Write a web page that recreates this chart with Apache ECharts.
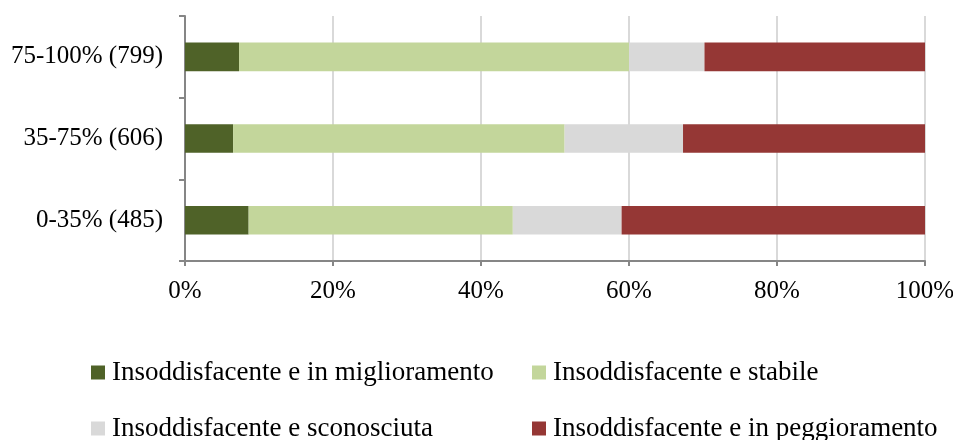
<!DOCTYPE html>
<html>
<head>
<meta charset="utf-8">
<script src="https://cdn.jsdelivr.net/npm/echarts@6/dist/echarts.min.js"></script>
<style>
    html, body { margin: 0; padding: 0; background: #fff; }
    #chart { width: 953px; height: 440px; }
</style>
</head>
<body>
<div id="chart"></div>
<script>
// categories bottom to top
var categories = ['0-35% (485)', '35-75% (606)', '75-100% (799)']
var miglioramento = [8.6, 6.5, 7.3]
var stabile = [35.7, 44.8, 52.7]
var sconosciuta = [14.7, 16.0, 10.2]
var peggioramento = [41.0, 32.7, 29.8]
var xTicks = [0, 20, 40, 60, 80, 100]

var font = 'Liberation Serif'
var chart = echarts.init(document.getElementById('chart'))

function bar(name, data, color) {
    return {
        name: name,
        type: 'bar',
        stack: 'tot',
        barWidth: '35%',
        itemStyle: { color: color },
        data: data
    }
}

// one legend per item, laid out 2x2 like the original
function legendItem(name, left, top) {
    return {
        left: left, top: top,
        icon: 'rect',
        itemWidth: 14, itemHeight: 14, itemGap: 0,
        textStyle: { fontFamily: font, fontSize: 27, color: '#000', padding: [0, 0, 0, 2] },
        data: [name]
    }
}

chart.setOption({
    animation: false,
    textStyle: { fontFamily: font },
    grid: { left: 185, right: 28, top: 16, bottom: 179, outerBoundsMode: 'none' },
    legend: [
        legendItem('Insoddisfacente e in miglioramento', 86, 354),
        legendItem('Insoddisfacente e stabile', 527, 354),
        legendItem('Insoddisfacente e sconosciuta', 86, 410),
        legendItem('Insoddisfacente e in peggioramento', 527, 410)
    ],
    xAxis: {
        type: 'value',
        min: xTicks[0],
        max: xTicks[xTicks.length - 1],
        interval: 20,
        axisLine: { show: true, lineStyle: { color: '#868686', width: 2 } },
        axisTick: { show: true, length: 5, lineStyle: { color: '#868686', width: 2 } },
        splitLine: { show: true, lineStyle: { color: '#d9d9d9', width: 2 } },
        axisLabel: {
            formatter: '{value}%',
            fontFamily: font, fontSize: 25, color: '#000', margin: 18
        }
    },
    yAxis: {
        type: 'category',
        data: categories,
        axisLine: { show: true, lineStyle: { color: '#868686', width: 2 } },
        axisTick: { show: true, length: 6, lineStyle: { color: '#868686', width: 2 } },
        axisLabel: { fontFamily: font, fontSize: 25, color: '#000', margin: 22 }
    },
    series: [
        bar('Insoddisfacente e in miglioramento', miglioramento, '#4f6228'),
        bar('Insoddisfacente e stabile', stabile, '#c3d69b'),
        bar('Insoddisfacente e sconosciuta', sconosciuta, '#d9d9d9'),
        bar('Insoddisfacente e in peggioramento', peggioramento, '#953735')
    ]
})
</script>
</body>
</html>
